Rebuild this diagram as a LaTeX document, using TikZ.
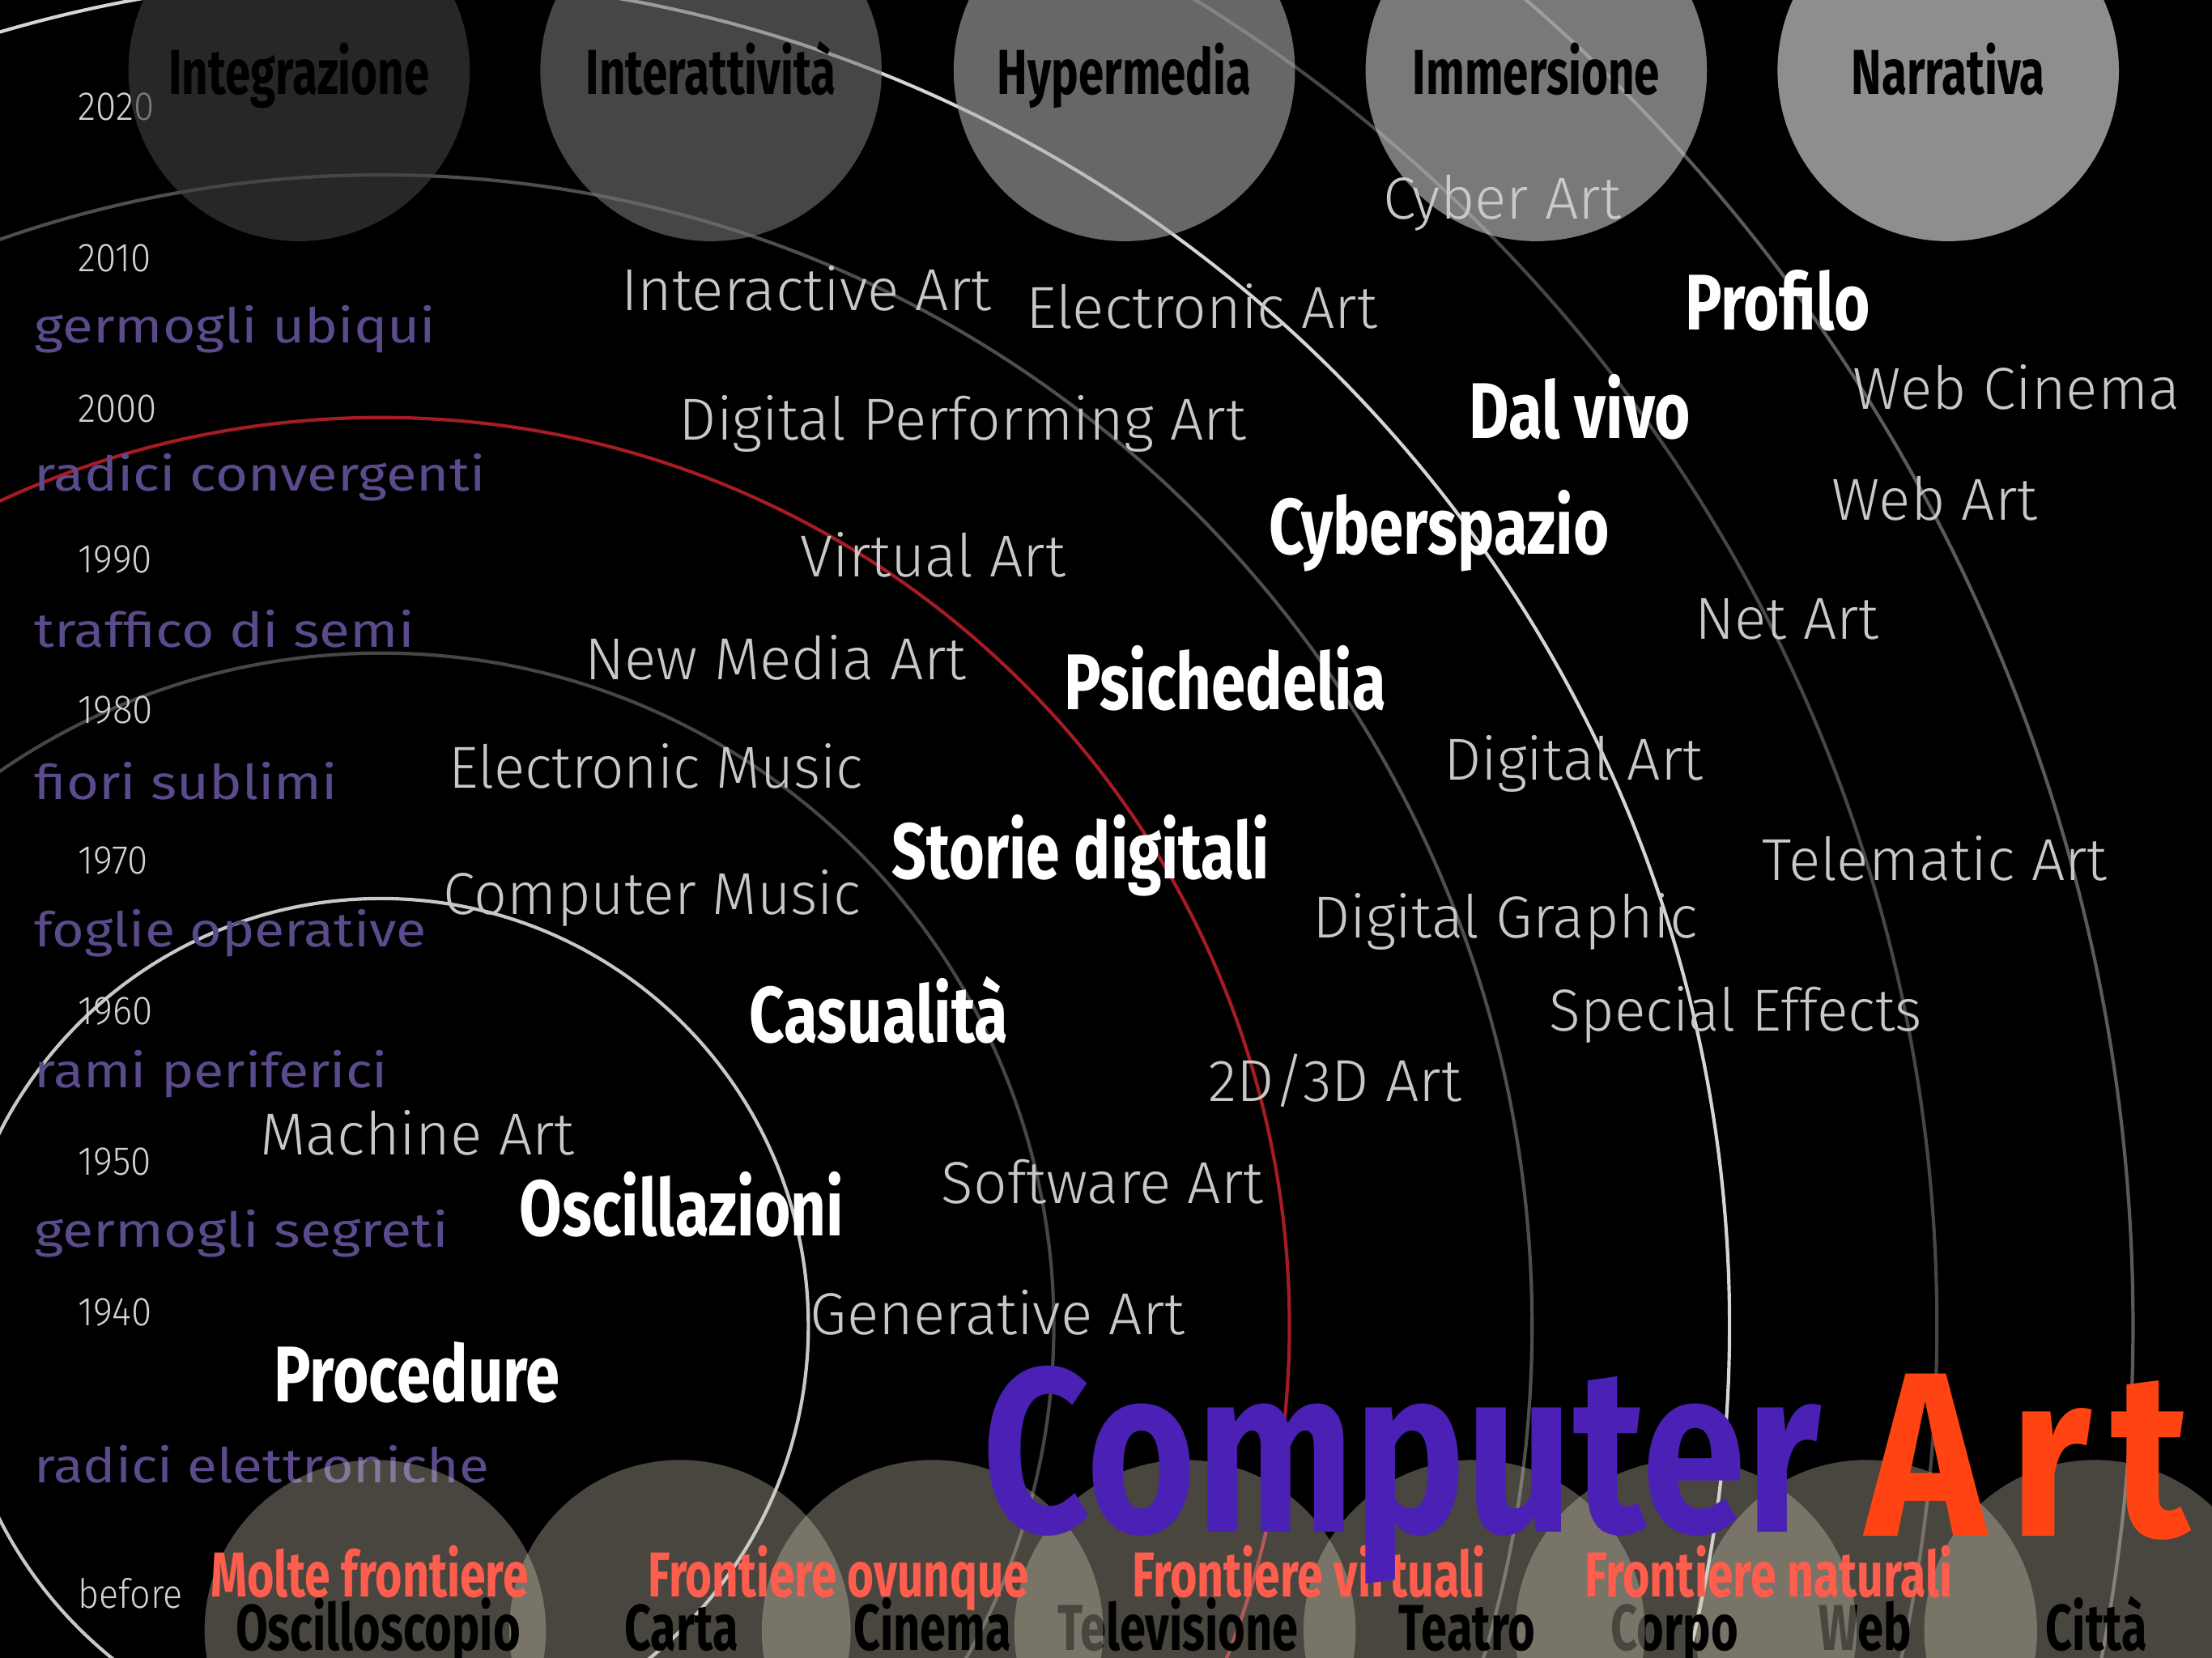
\documentclass[tikz,border=0pt]{standalone}
\usepackage{fontspec}
\usepackage{graphicx}
\setmainfont{Fira Sans}
\newfontfamily\lightfont{Fira Sans Light}

\definecolor{ringlight}{HTML}{C8C8C8}
\definecolor{ringdark}{HTML}{464646}
\definecolor{ringgray}{HTML}{4E4E4E}
\definecolor{ringred}{HTML}{A51C24}
\definecolor{ringwhite}{HTML}{D5D5D5}
\definecolor{ringmid}{HTML}{5A5A5A}
\definecolor{artgray}{HTML}{C8C8C8}
\definecolor{yeargray}{HTML}{D2D2D2}
\definecolor{phrasepurple}{HTML}{5B4A8C}
\definecolor{titlepurple}{HTML}{4B21B5}
\definecolor{titleorange}{HTML}{FF4312}
\definecolor{frontred}{HTML}{FF5D4D}
\definecolor{sand}{RGB}{211,203,183}

% horizontal squeeze of a label
\newcommand{\squeeze}[2]{\scalebox{#1}[1]{#2}}

\tikzset{
  ring/.style={line width=1.2pt},
  year/.style={anchor=base west, inner sep=0pt, text=yeargray, font=\lightfont\fontsize{14.3}{16}\selectfont},
  phrase/.style={anchor=base west, inner sep=0pt, text=phrasepurple, font=\fontsize{17}{20}\selectfont},
  art/.style={anchor=base west, inner sep=0pt, text=artgray, font=\lightfont\fontsize{21}{24}\selectfont},
  theme/.style={anchor=base west, inner sep=0pt, text=white, font=\bfseries\fontsize{28}{30}\selectfont},
  topic/.style={anchor=base, inner sep=0pt, text=black, font=\bfseries\fontsize{22.5}{24}\selectfont},
  medium/.style={anchor=base, inner sep=0pt, text=black, font=\bfseries\fontsize{23}{25}\selectfont},
  frontier/.style={anchor=base west, inner sep=0pt, text=frontred, font=\bfseries\fontsize{22.5}{24}\selectfont},
  headline/.style={anchor=base west, inner sep=0pt, font=\bfseries\fontsize{83}{90}\selectfont},
}

\begin{document}
\begin{tikzpicture}[x=0.5pt,y=-0.5pt]
\useasboundingbox (0,0) rectangle (1568,1175.4);
\clip (0,0) rectangle (1568,1175.4);
\fill[black] (0,0) rectangle (1568,1175.4);

% rings around the origin
\coordinate (hub) at (270,940);
\foreach \r/\c in {303/ringlight,477/ringdark,644/ringred,816/ringgray,956/ringwhite,1103/ringdark,1242/ringmid}
  \draw[ring,draw=\c] (hub) circle (\r);

% decades
\foreach \yr [count=\i from 0] in {2020,2010,...,1940}
  \node[year] (yr\yr) at (55,85.5+106.8*\i) {\squeeze{0.92}{\yr}};
\node[year] (before) at (55,1140) {\squeeze{0.9}{before}};

% phases
\node[phrase] (ubiqui) at (24,243) {\squeeze{1.17}{germogli ubiqui}};
\node[phrase] (convergenti) at (24,348) {\squeeze{1.16}{radici convergenti}};
\node[phrase] (semi) at (24,459) {\squeeze{1.17}{traffico di semi}};
\node[phrase] (sublimi) at (24,567) {\squeeze{1.16}{fiori sublimi}};
\node[phrase] (operative) at (24,671) {\squeeze{1.15}{foglie operative}};
\node[phrase] (periferici) at (24,771) {\squeeze{1.15}{rami periferici}};
\node[phrase] (segreti) at (24,884) {\squeeze{1.18}{germogli segreti}};
\node[phrase] (elettroniche) at (24,1051) {\squeeze{1.14}{radici elettroniche}};

% art forms
\node[art] (cyberart) at (980,155) {Cyber Art};
\node[art] (interactive) at (440,220) {Interactive Art};
\node[art] (electronicart) at (727,233) {Electronic Art};
\node[art] (webcinema) at (1313,290) {Web Cinema};
\node[art] (performing) at (481,312) {Digital Performing Art};
\node[art] (webart) at (1298,369) {Web Art};
\node[art] (virtual) at (567,409) {Virtual Art};
\node[art] (netart) at (1201,453) {Net Art};
\node[art] (newmedia) at (414,482) {New Media Art};
\node[art] (elmusic) at (318,559) {\squeeze{0.97}{Electronic Music}};
\node[art] (digitalart) at (1023,553) {Digital Art};
\node[art] (telematic) at (1249,624) {Telematic Art};
\node[art] (compmusic) at (314,648) {\squeeze{0.98}{Computer Music}};
\node[art] (graphic) at (930,665) {Digital Graphic};
\node[art] (effects) at (1098,731) {\squeeze{0.98}{Special Effects}};
\node[art] (threed) at (856,781) {2D/3D Art};
\node[art] (machine) at (184,819) {Machine Art};
\node[art] (software) at (667,853) {Software Art};
\node[art] (generative) at (574,946) {Generative Art};

% themes
\node[theme] (profilo) at (1194,234) {\squeeze{0.78}{Profilo}};
\node[theme] (dalvivo) at (1041,311) {\squeeze{0.78}{Dal vivo}};
\node[theme] (cyberspazio) at (899,393) {\squeeze{0.78}{Cyberspazio}};
\node[theme] (psichedelia) at (754,503) {\squeeze{0.78}{Psichedelia}};
\node[theme] (storie) at (632,623) {\squeeze{0.77}{Storie digitali}};
\node[theme] (casualita) at (531,739) {\squeeze{0.78}{Casualità}};
\node[theme] (oscillazioni) at (368,876) {\squeeze{0.78}{Oscillazioni}};
\node[theme] (procedure) at (194,994) {\squeeze{0.78}{Procedure}};

% qualities on top
\foreach \cx/\g/\name [count=\k] in {212/65/Integrazione,504/117/Interattività,797/173/Hypermedia,1089/203/Immersione,1381/238/Narrativa} {
  \fill[fill={rgb,255:red,\g;green,\g;blue,\g}, fill opacity=0.6] (\cx,50) circle (121);
  \node[topic] (top\k) at (\cx,67) {\squeeze{0.72}{\name}};
}

% media at the bottom, right to left
\foreach \cx/\lx/\name [count=\k] in {1485/1486/Città,1323/1322/Web,1195/1187/Corpo,1045/1040/Teatro,840/835/Televisione,661/661/Cinema,482/483/Carta,266/268/Oscilloscopio} {
  \fill[sand, fill opacity=0.35] (\cx,1156) circle (121);
  \node[medium] (low\k) at (\lx,1170) {\squeeze{0.72}{\name}};
}

% frontiers
\node[frontier] (molte) at (149,1132) {\squeeze{0.73}{Molte frontiere}};
\node[frontier] (ovunque) at (459,1132) {\squeeze{0.72}{Frontiere ovunque}};
\node[frontier] (virtuali) at (802,1132) {\squeeze{0.73}{Frontiere virtuali}};
\node[frontier] (naturali) at (1123,1132) {\squeeze{0.73}{Frontiere naturali}};

% title
\node[headline, text=titlepurple] (computer) at (696,1086) {\squeeze{0.8}{Computer}};
\node[headline, text=titleorange] (art) at (1322,1089) {\squeeze{0.87}{A\kern10pt r\kern8pt t}};
\end{tikzpicture}
\end{document}
